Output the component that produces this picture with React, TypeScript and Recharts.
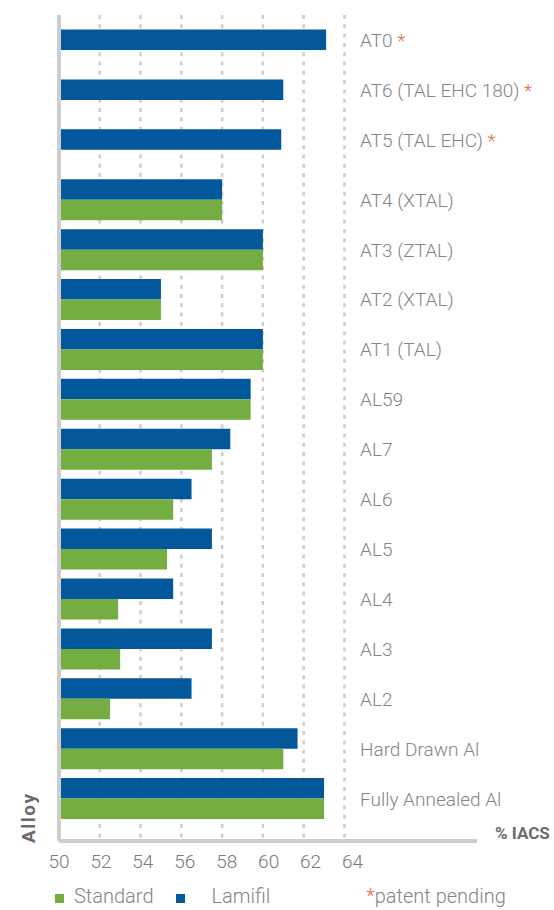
import React from "react";
import {
  BarChart,
  Bar,
  XAxis,
  YAxis,
  CartesianGrid,
  Label,
} from "recharts";

const ALLOYS = [
  "AT0",
  "AT6 (TAL EHC 180)",
  "AT5 (TAL EHC)",
  "AT4 (XTAL)",
  "AT3 (ZTAL)",
  "AT2 (XTAL)",
  "AT1 (TAL)",
  "AL59",
  "AL7",
  "AL6",
  "AL5",
  "AL4",
  "AL3",
  "AL2",
  "Hard Drawn Al",
  "Fully Annealed Al",
];

// alloys flagged with the orange asterisk
const PATENT_PENDING = ["AT0", "AT6 (TAL EHC 180)", "AT5 (TAL EHC)"];

// % IACS
const LAMIFIL = [63.1, 61.0, 60.9, 58.0, 60.0, 55.0, 60.0, 59.4, 58.4, 56.5, 57.5, 55.6, 57.5, 56.5, 61.7, 63.0];
const STANDARD = [null, null, null, 58.0, 60.0, 55.0, 60.0, 59.4, 57.5, 55.6, 55.3, 52.9, 53.0, 52.5, 61.0, 63.0];

const X_TICKS = [50, 52, 54, 56, 58, 60, 62, 64];
const X_DOMAIN = [50, 70.5];

const BLUE = "#03589b";
const GREEN = "#74ad42";
const AXIS_GRAY = "#cdcdcd";
const TEXT_GRAY = "#858585";
const ORANGE = "#d6743c";
const FONT = "Roboto, sans-serif";

const SERIES = [
  { key: "standard", name: "Standard", color: GREEN },
  { key: "lamifil", name: "Lamifil", color: BLUE },
];

const data = ALLOYS.map((alloy, i) => ({
  alloy,
  lamifil: LAMIFIL[i],
  standard: STANDARD[i],
}));

const BAR_SIZE = 20.5;
const LABEL_X = 360;

function AlloyTick(props: any) {
  const { y, payload } = props;
  const name: string = payload.value;
  const row = data.find((d) => d.alloy === name);
  // single-bar rows: line the label up with the blue bar
  const dy = row && row.standard == null ? -BAR_SIZE / 2 : 0;
  const star = PATENT_PENDING.includes(name);
  return (
    <text
      x={LABEL_X}
      y={y + dy}
      dominantBaseline="central"
      fill={TEXT_GRAY}
      fontSize={19}
      fontWeight={300}
      fontFamily={FONT}
    >
      {name}
      {star && <tspan fill={ORANGE}> *</tspan>}
    </text>
  );
}

function ValueTick(props: any) {
  const { x, y, payload, index } = props;
  return (
    <text
      x={x + index * 1.15}
      y={y}
      dy="0.71em"
      textAnchor="middle"
      fill="#7a7a7a"
      fontSize={19}
      fontWeight={300}
      fontFamily={FONT}
    >
      {payload.value}
    </text>
  );
}

function LegendRow() {
  return (
    <div
      style={{
        position: "absolute",
        left: 55,
        top: 884,
        display: "flex",
        alignItems: "center",
        fontFamily: FONT,
        fontWeight: 300,
        fontSize: 20,
        color: TEXT_GRAY,
        whiteSpace: "nowrap",
      }}
    >
      {SERIES.map((s, i) => (
        <span key={s.key} style={{ display: "flex", alignItems: "center", marginLeft: i === 0 ? 0 : 22 }}>
          <span style={{ width: 9, height: 9, background: s.color, marginTop: 4, marginRight: i === 0 ? 10 : 27 }} />
          {s.name}
        </span>
      ))}
      <span style={{ marginLeft: 96 }}>
        <span style={{ color: ORANGE }}>*</span>patent pending
      </span>
    </div>
  );
}

// dotted grid only at the labelled ticks
const gridX = ({ offset }: any) => {
  const [lo, hi] = X_DOMAIN;
  return X_TICKS.map((t) => offset.left + ((t - lo) / (hi - lo)) * offset.width);
};

export default function App() {
  return (
    <div style={{ position: "absolute", left: 0, top: 0, width: 554, height: 910, background: "#fff" }}>
      <BarChart
        width={554}
        height={910}
        data={data}
        layout="vertical"
        margin={{ top: 15, right: 77, bottom: 39, left: 58 }}
        barGap={0}
      >
        <CartesianGrid
          horizontal={false}
          stroke={AXIS_GRAY}
          strokeWidth={2.5}
          strokeDasharray="4 5.3"
          verticalCoordinatesGenerator={gridX}
        />
        <XAxis
          type="number"
          domain={X_DOMAIN}
          ticks={X_TICKS}
          allowDataOverflow
          height={30}
          tickLine={false}
          tickSize={6}
          tickMargin={7.5}
          axisLine={{ stroke: AXIS_GRAY, strokeWidth: 4 }}
          tick={<ValueTick />}
        >
          <Label
            content={(p: any) => {
              const vb = p.viewBox;
              return (
                <text
                  x={vb.x + vb.width + 18}
                  y={vb.y - 2}
                  fill="#6b6b6b"
                  fontSize={17}
                  fontWeight={700}
                  fontFamily={FONT}
                >
                  % IACS
                </text>
              );
            }}
          />
        </XAxis>
        <YAxis
          type="category"
          dataKey="alloy"
          width={1}
          padding={{ top: 10.5, bottom: 17 }}
          tickLine={false}
          tickSize={0}
          axisLine={{ stroke: AXIS_GRAY, strokeWidth: 4 }}
          tick={<AlloyTick />}
          interval={0}
        >
          <Label
            content={(p: any) => {
              const vb = p.viewBox;
              const x = vb.x - 23;
              const y = vb.y + vb.height + 2;
              return (
                <text
                  x={x}
                  y={y}
                  transform={`rotate(-90, ${x}, ${y})`}
                  fill="#6b6b6b"
                  fontSize={19}
                  fontWeight={700}
                  letterSpacing={1.5}
                  fontFamily={FONT}
                >
                  Alloy
                </text>
              );
            }}
          />
        </YAxis>
        <Bar dataKey="lamifil" name="Lamifil" fill={BLUE} barSize={BAR_SIZE} isAnimationActive={false} />
        <Bar dataKey="standard" name="Standard" fill={GREEN} barSize={BAR_SIZE} isAnimationActive={false} />
      </BarChart>
      <LegendRow />
    </div>
  );
}
